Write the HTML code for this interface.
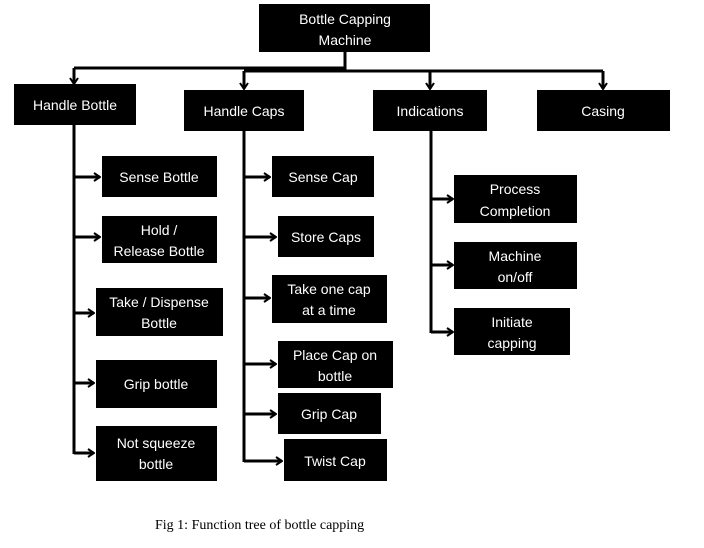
<!DOCTYPE html>
<html><head><meta charset="utf-8"><style>
html,body{margin:0;padding:0;background:#fff;}
svg text{font-family:"Liberation Sans",sans-serif;font-size:14px;fill:#fff;text-anchor:middle;}
</style></head><body>
<svg width="704" height="543" viewBox="0 0 704 543" xmlns="http://www.w3.org/2000/svg">
<defs><marker id="a" markerWidth="8" markerHeight="10" refX="7" refY="5" orient="auto" markerUnits="userSpaceOnUse"><path d="M1,1 L7,5 L1,9" fill="none" stroke="#000" stroke-width="2"/></marker></defs>
<g stroke="#000" stroke-width="3" fill="none">
<line x1="345" y1="52" x2="345" y2="70"/>
<line x1="74" y1="68" x2="345" y2="68"/>
<line x1="244" y1="71" x2="603" y2="71"/>
<line x1="74" y1="68" x2="74" y2="84" marker-end="url(#a)"/>
<line x1="244" y1="71" x2="244" y2="89" marker-end="url(#a)"/>
<line x1="430" y1="71" x2="430" y2="89" marker-end="url(#a)"/>
<line x1="603" y1="71" x2="603" y2="89" marker-end="url(#a)"/>
<line x1="74" y1="124" x2="74" y2="454"/>
<line x1="244" y1="131" x2="244" y2="462"/>
<line x1="431" y1="131" x2="431" y2="333"/>
<line x1="74" y1="177" x2="100" y2="177" marker-end="url(#a)"/>
<line x1="74" y1="237" x2="100" y2="237" marker-end="url(#a)"/>
<line x1="74" y1="313" x2="94" y2="313" marker-end="url(#a)"/>
<line x1="74" y1="383" x2="94" y2="383" marker-end="url(#a)"/>
<line x1="74" y1="453" x2="94" y2="453" marker-end="url(#a)"/>
<line x1="244" y1="177" x2="270" y2="177" marker-end="url(#a)"/>
<line x1="244" y1="237" x2="276" y2="237" marker-end="url(#a)"/>
<line x1="244" y1="298" x2="270" y2="298" marker-end="url(#a)"/>
<line x1="244" y1="364" x2="276" y2="364" marker-end="url(#a)"/>
<line x1="244" y1="414" x2="276" y2="414" marker-end="url(#a)"/>
<line x1="244" y1="461" x2="282" y2="461" marker-end="url(#a)"/>
<line x1="431" y1="199" x2="453" y2="199" marker-end="url(#a)"/>
<line x1="431" y1="265" x2="453" y2="265" marker-end="url(#a)"/>
<line x1="431" y1="332" x2="453" y2="332" marker-end="url(#a)"/>
</g>
<g fill="#000">
<rect x="259" y="4" width="171" height="48"/>
<rect x="14" y="84" width="122" height="41"/>
<rect x="184" y="90" width="120" height="41"/>
<rect x="373" y="90" width="114" height="41"/>
<rect x="537" y="90" width="133" height="41"/>
<rect x="102" y="156" width="115" height="41"/>
<rect x="102" y="216" width="115" height="47"/>
<rect x="96" y="288" width="127" height="48"/>
<rect x="96" y="360" width="121" height="48"/>
<rect x="96" y="426" width="121" height="55"/>
<rect x="272" y="156" width="102" height="41"/>
<rect x="278" y="216" width="96" height="41"/>
<rect x="272" y="275" width="115" height="48"/>
<rect x="278" y="341" width="115" height="47"/>
<rect x="278" y="393" width="103" height="41"/>
<rect x="284" y="439" width="103" height="42"/>
<rect x="454" y="175" width="123" height="48"/>
<rect x="454" y="242" width="123" height="47"/>
<rect x="454" y="308" width="116" height="47"/>
</g>
<text x="345" y="24">Bottle Capping</text><text x="345" y="45">Machine</text>
<text x="75" y="110">Handle Bottle</text>
<text x="244" y="116">Handle Caps</text>
<text x="430" y="116">Indications</text>
<text x="603" y="116">Casing</text>
<text x="159" y="182">Sense Bottle</text>
<text x="159" y="235">Hold /</text><text x="159" y="256">Release Bottle</text>
<text x="159" y="307">Take / Dispense</text><text x="159" y="328">Bottle</text>
<text x="156" y="389">Grip bottle</text>
<text x="156" y="448">Not squeeze</text><text x="156" y="469">bottle</text>
<text x="323" y="182">Sense Cap</text>
<text x="326" y="242">Store Caps</text>
<text x="329" y="294">Take one cap</text><text x="329" y="315">at a time</text>
<text x="335" y="360">Place Cap on</text><text x="335" y="381">bottle</text>
<text x="329" y="419">Grip Cap</text>
<text x="335" y="466">Twist Cap</text>
<text x="515" y="194">Process</text><text x="515" y="216">Completion</text>
<text x="515" y="261">Machine</text><text x="515" y="282">on/off</text>
<text x="512" y="327">Initiate</text><text x="512" y="348">capping</text>
<text x="155" y="529" style="fill:#000;text-anchor:start;font-family:'Liberation Serif',serif;font-size:14px;">Fig 1: Function tree of bottle capping</text>
</svg>
</body></html>
